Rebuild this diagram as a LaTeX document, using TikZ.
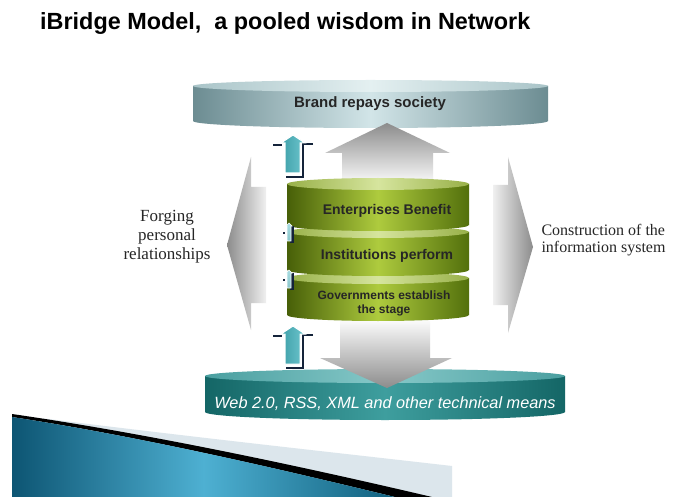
\documentclass[tikz,border=0pt]{standalone}
\usepackage{fontspec}
\setmainfont{Liberation Sans}
\newfontfamily\serifface{Liberation Serif}
\definecolor{tdEdge}{HTML}{6C8C92}
\definecolor{tdMid}{HTML}{D2E5E8}
\definecolor{tdTopE}{HTML}{A9C4C8}
\definecolor{tdTopM}{HTML}{E4F0F1}
\definecolor{bdEdge}{HTML}{146666}
\definecolor{bdMid}{HTML}{3E9E9E}
\definecolor{bdTopE}{HTML}{4A9FA0}
\definecolor{bdTopM}{HTML}{86C8C8}
\definecolor{gEdgeL}{HTML}{475F08}
\definecolor{gEdgeR}{HTML}{53700C}
\definecolor{gMid}{HTML}{AECB3E}
\definecolor{gTopE}{HTML}{98B048}
\definecolor{gTopM}{HTML}{D6E59E}
\definecolor{arrGray}{HTML}{8C8C8C}
\definecolor{tealA}{HTML}{3D9FA8}
\definecolor{tealB}{HTML}{6FC6CE}
\definecolor{navyD}{HTML}{14233A}
\definecolor{swL}{HTML}{0D5573}
\definecolor{swM}{HTML}{4EB0D2}
\definecolor{swR}{HTML}{10607E}
\definecolor{swBand}{HTML}{DCE6EC}
\tikzset{
  grnbody/.style={left color=gEdgeL, right color=gEdgeR, middle color=gMid},
  grntop/.style={left color=gTopE, right color=gTopE, middle color=gTopM},
  tealup/.pic={
    \draw[navyD, line width=2.6pt] (20,9) -- (10,9) -- (10,42) -- (-7,42);
    \draw[navyD, line width=2.6pt] (-20,10) -- (-11,10);
    \shade[left color=tealA, right color=tealB, draw=white, line width=1pt]
      (0,0) -- (12,8) -- (7,8) -- (7,38) -- (-8,38) -- (-8,8) -- (-12,8) -- cycle;
  },
  tinyup/.pic={
    \fill[navyD] (1,3) rectangle (5,20);
    \fill[navyD] (-6,9) rectangle (-4,11);
    \shade[top color=tealB!60!white, bottom color=tealA!60!white, draw=white, line width=0.6pt]
      (0,0) -- (3,3) -- (2,3) -- (2,18) -- (-2,18) -- (-2,3) -- (-3,3) -- cycle;
  },
  lbl/.style={font=\bfseries\fontsize{14}{16}\selectfont, text=black!85}
}
\begin{document}
\begin{tikzpicture}[x=1pt,y=-1pt]
\useasboundingbox (0,0) rectangle (688,497);
\fill[white] (0,0) rectangle (688,497);

% title
\node[font=\bfseries\fontsize{23.4}{26}\selectfont, anchor=west, inner sep=0pt] (title) at (40,24)
  {iBridge Model,\ \ a pooled wisdom in Network};

% bottom-left swoosh
\fill[swBand] (40,418) .. controls (200,438) and (330,452) .. (452,466) -- (452,497) -- (400,497) -- cycle;
\fill[black] (12,414) .. controls (150,434) and (300,466) .. (432,497) -- (395,497)
  .. controls (300,474) and (150,438) .. (12,417) -- cycle;
\shade[left color=swL, right color=swR, middle color=swM] (12,417) .. controls (150,438) and (300,474) .. (395,497) -- (12,497) -- cycle;

% top disk
\shade[left color=tdEdge, right color=tdEdge, middle color=tdMid]
  (193,86) -- (193,121) arc[start angle=180, end angle=0, x radius=177.5, y radius=7] -- (548,86) -- cycle;
\shade[left color=tdTopE, right color=tdTopE, middle color=tdTopM] (370.5,86) ellipse[x radius=177.5, y radius=6];
\node[font=\bfseries\fontsize{15}{18}\selectfont, text=black!85] (brand) at (370,104) {Brand repays society};

% bottom disk
\shade[left color=bdEdge, right color=bdEdge, middle color=bdMid]
  (205,376) -- (205,412) arc[start angle=180, end angle=0, x radius=180, y radius=8] -- (565,376) -- cycle;
\shade[left color=bdTopE, right color=bdTopE, middle color=bdTopM] (385,376) ellipse[x radius=180, y radius=7];

% side arrows
\shade[left color=arrGray, right color=black!6] (227,245) -- (251,157) -- (251,187) -- (266,187)
  -- (266,303) -- (251,303) -- (251,330) -- cycle;
\shade[left color=black!6, right color=arrGray] (493,185) -- (508,185) -- (508,157) -- (533,247)
  -- (508,333) -- (508,305) -- (493,305) -- cycle;

% up / down arrows
\shade[top color=arrGray, bottom color=white] (387,123) -- (450,153) -- (433,153) -- (433,186)
  -- (342,186) -- (342,153) -- (325,153) -- cycle;
\shade[top color=white, bottom color=arrGray] (340,318) -- (430,318) -- (430,358) -- (452,358)
  -- (387,388) -- (320,358) -- (340,358) -- cycle;

% green stack (bottom to top)
\shade[grnbody] (287,278) -- (287,315) arc[start angle=180, end angle=0, x radius=91, y radius=6] -- (469,278) -- cycle;
\shade[grntop] (378,278) ellipse[x radius=91, y radius=6];
\shade[grnbody] (287,232) -- (287,270) arc[start angle=180, end angle=0, x radius=91, y radius=6] -- (469,232) -- cycle;
\shade[grntop] (378,232) ellipse[x radius=91, y radius=6];
\shade[grnbody] (287,184) -- (287,225) arc[start angle=180, end angle=0, x radius=91, y radius=6] -- (469,184) -- cycle;
\shade[grntop] (378,184) ellipse[x radius=91, y radius=6];

\node[lbl] (ent) at (387,211) {Enterprises Benefit};
\node[lbl] (inst) at (387,256) {Institutions perform};
\node[font=\bfseries\fontsize{12}{14}\selectfont, text=black!85, align=center] (gov) at (384,303)
  {Governments establish\\the stage};

% bottom disk text
\node[font=\itshape\fontsize{16.3}{18}\selectfont, text=white] (web) at (385,404)
  {Web 2.0, RSS, XML and other technical means};

% small teal arrows
\pic at (293,135) {tealup};
\pic at (293,326) {tealup};
\pic at (289,223) {tinyup};
\pic at (289,270) {tinyup};

% side labels
\node[font=\serifface\fontsize{17}{19}\selectfont, align=center, text=black!85] (forge) at (167,237)
  {Forging\\personal\\relationships};
\node[font=\serifface\fontsize{16}{17}\selectfont, align=left, anchor=west, text=black!85] (constr) at (538,240)
  {Construction of the\\information system};
\end{tikzpicture}
\end{document}
